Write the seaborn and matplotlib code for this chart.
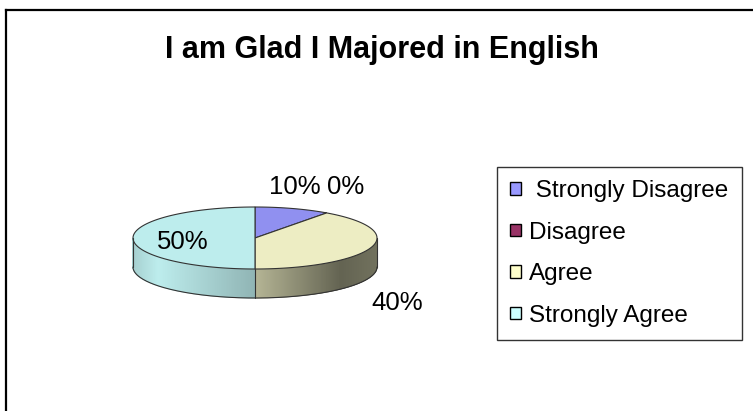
import numpy as np
import matplotlib
matplotlib.use("Agg")
import matplotlib.pyplot as plt
import matplotlib.colors as mcolors
from matplotlib.patches import Polygon, Patch
import seaborn as sns

# survey answers and their shares (percent)
categories = ["Strongly Disagree", "Disagree", "Agree", "Strongly Agree"]
shares = [10, 0, 40, 50]
legend_labels = [" Strongly Disagree", "Disagree", "Agree", "Strongly Agree"]
base_colors = ["#9999FF", "#993366", "#FFFFCC", "#CCFFFF"]
top_colors = ["#9090F0", "#993366", "#EDEDC3", "#BDEDED"]
title = "I am Glad I Majored in English"

sns.set_theme(style="white")
plt.rcParams["font.family"] = ["Liberation Sans", "DejaVu Sans"]

W, H = 753, 411
fig = plt.figure(figsize=(W / 100, H / 100), dpi=100)
ax = fig.add_axes([0, 0, 1, 1])
ax.set_xlim(0, W)
ax.set_ylim(H, 0)
ax.axis("off")

# chart area border (only top and left visible)
ax.plot([6, 6], [H, 10], color="black", lw=1.6, solid_capstyle="projecting")
ax.plot([6, W], [10, 10], color="black", lw=1.6, solid_capstyle="projecting")

# pie geometry in pixels
cx, cy, rx, ry, depth = 255, 238, 122, 31, 29


def px(t):
    return cx + rx * np.sin(np.radians(t))


def py(t):
    return cy - ry * np.cos(np.radians(t))


def shade(color, t):
    s = np.sin(np.radians(t))
    f = np.interp(s, [-1, -0.8, 0, 0.7, 1], [0.88, 1.0, 0.76, 0.42, 0.48])
    r, g, b = mcolors.to_rgb(color)
    return (r * f, g * f, b * f)


edge = "#333333"
angles = np.cumsum([0] + shares) * 3.6

# side walls (front half only: 90..270 degrees clockwise from top)
for i, c in enumerate(top_colors):
    a0, a1 = max(angles[i], 90), min(angles[i + 1], 270)
    if a1 <= a0:
        continue
    steps = np.linspace(a0, a1, int((a1 - a0) * 2) + 2)
    for t0, t1 in zip(steps[:-1], steps[1:]):
        xs = [px(t0), px(t1), px(t1), px(t0)]
        ys = [py(t0), py(t1), py(t1) + depth, py(t0) + depth]
        col = shade(c, (t0 + t1) / 2)
        ax.add_patch(Polygon(np.column_stack([xs, ys]), closed=True,
                             facecolor=col, edgecolor=col, lw=0.6))

# side outline
tb = np.linspace(90, 270, 200)
ax.plot(px(tb), py(tb) + depth, color=edge, lw=0.8)
for t in (90, 270):
    ax.plot([px(t), px(t)], [py(t), py(t) + depth], color=edge, lw=0.8)
for a in angles:
    if 90 < a < 270:
        ax.plot([px(a), px(a)], [py(a), py(a) + depth], color=edge, lw=0.8)

# top face
for i, c in enumerate(top_colors):
    a0, a1 = angles[i], angles[i + 1]
    if a1 <= a0:
        continue
    t = np.linspace(a0, a1, 200)
    xs = np.concatenate([[cx], px(t)])
    ys = np.concatenate([[cy], py(t)])
    ax.add_patch(Polygon(np.column_stack([xs, ys]), closed=True,
                         facecolor=c, edgecolor=edge, lw=0.8))

# data labels
label_pos = [(295, 187), (346, 187), (397, 303), (183, 242)]
for v, (lx, ly) in zip(shares, label_pos):
    ax.text(lx, ly, f"{v}%", ha="center", va="center", fontsize=18.5,
            color="black")

# title
ax.text(382, 50, title, ha="center", va="center", fontsize=22,
        fontweight="bold", color="black")

# legend
handles = [Patch(facecolor=c, edgecolor="black", lw=1.0) for c in base_colors]
leg = ax.legend(handles, legend_labels, loc="upper left",
                bbox_to_anchor=(497 / W, 1 - 167 / H), borderaxespad=0,
                fontsize=17.5, labelcolor="black", frameon=True,
                fancybox=False, handlelength=0.42, handleheight=0.42,
                handletextpad=0.35, labelspacing=0.8, borderpad=0.55)
leg.get_frame().set_edgecolor("black")
leg.get_frame().set_linewidth(1.0)

fig.savefig("out.png", dpi=100, facecolor="white")
